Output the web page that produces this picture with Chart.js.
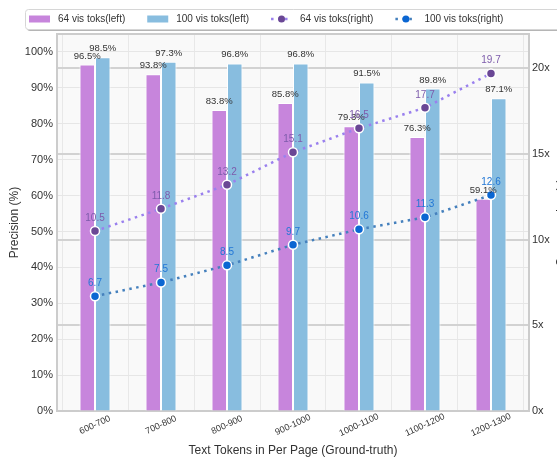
<!DOCTYPE html>
<html>
<head>
<meta charset="utf-8">
<script src="https://cdn.jsdelivr.net/npm/chart.js@4.4.1/dist/chart.umd.min.js"></script>
<style>
    html, body { margin: 0; padding: 0; background: #fff; overflow: hidden; }
    #chart { display: block; }
</style>
</head>
<body>
<canvas id="chart" width="557" height="459"></canvas>
<script>
// data
const categories = ['600-700', '700-800', '800-900', '900-1000', '1000-1100', '1100-1200', '1200-1300'];
const vis64Precision = [96.5, 93.8, 83.8, 85.8, 79.3, 76.3, 59.1];
const vis100Precision = [98.5, 97.3, 96.8, 96.8, 91.5, 89.8, 87.1];
const vis64Compression = [10.5, 11.8, 13.2, 15.1, 16.5, 17.7, 19.7];
const vis100Compression = [6.7, 7.5, 8.5, 9.7, 10.6, 11.3, 12.6];
const precisionTicks = [0, 10, 20, 30, 40, 50, 60, 70, 80, 90, 100];
const compressionTicks = [0, 5, 10, 15, 20];

Chart.defaults.font.family = '"Liberation Sans", Arial, sans-serif';
Chart.defaults.color = '#333';

const toXY = arr => arr.map((v, i) => ({ x: i, y: v }));

// =====================
// PLUGINS
// =====================

const plotFrame = {
    id: 'plotFrame',
    beforeDraw(chart) {
        const { ctx, chartArea: a } = chart;
        ctx.save();
        ctx.fillStyle = '#f9f9f9';
        ctx.fillRect(a.left, a.top, a.right - a.left, a.bottom - a.top);
        ctx.restore();
    },
    beforeDatasetsDraw(chart) {
        const { ctx, chartArea: a } = chart;
        ctx.save();
        ctx.strokeStyle = '#cccccc';
        ctx.lineWidth = 2;
        ctx.strokeRect(a.left, a.top, a.right - a.left, a.bottom - a.top);
        ctx.restore();
    }
};

const valueLabels = {
    id: 'valueLabels',
    afterDatasetsDraw(chart) {
        const ctx = chart.ctx;
        ctx.save();
        ctx.textAlign = 'center';
        ctx.textBaseline = 'alphabetic';
        chart.data.datasets.forEach((ds, di) => {
            const meta = chart.getDatasetMeta(di);
            meta.data.forEach((el, i) => {
                const v = ds.data[i].y;
                if (ds.type === 'line') {
                    ctx.font = '10px "Liberation Sans", Arial, sans-serif';
                    ctx.fillStyle = ds.labelColor;
                    ctx.fillText(v.toFixed(1), el.x, el.y - 10);
                } else {
                    ctx.font = '9.5px "Liberation Sans", Arial, sans-serif';
                    ctx.fillStyle = '#333';
                    ctx.fillText(v.toFixed(1) + '%', el.x, el.y - 6);
                }
            });
        });
        ctx.restore();
    }
};

const extraText = {
    id: 'extraText',
    afterDraw(chart) {
        const { ctx, chartArea: a } = chart;
        const xs = chart.scales.x;
        ctx.save();

        // rotated category labels, centred under each group
        ctx.font = '9px "Liberation Sans", Arial, sans-serif';
        ctx.fillStyle = '#333';
        ctx.textAlign = 'center';
        ctx.textBaseline = 'middle';
        categories.forEach((c, i) => {
            ctx.save();
            ctx.translate(xs.getPixelForValue(i), a.bottom + 14);
            ctx.rotate(-25 * Math.PI / 180);
            ctx.fillText(c, 0, 0);
            ctx.restore();
        });

        // right axis title (runs off the page edge)
        ctx.font = '12px "Liberation Sans", Arial, sans-serif';
        ctx.translate(562, (a.top + a.bottom) / 2);
        ctx.rotate(-Math.PI / 2);
        ctx.fillText('Compression (x)', 0, 0);
        ctx.restore();
    }
};

const boxLegend = {
    id: 'boxLegend',
    afterDraw(chart) {
        const ctx = chart.ctx;
        const top = 9, h = 20, cy = top + h / 2;
        ctx.save();
        // shadow + box
        ctx.fillStyle = '#b5b5b5';
        ctx.beginPath();
        ctx.roundRect(27, top + 2, 560, h, 3);
        ctx.fill();
        ctx.fillStyle = '#fff';
        ctx.strokeStyle = '#d6d6d6';
        ctx.lineWidth = 1;
        ctx.beginPath();
        ctx.roundRect(25.5, top + 0.5, 560, h, 3);
        ctx.fill();
        ctx.stroke();

        ctx.font = '10px "Liberation Sans", Arial, sans-serif';
        ctx.textBaseline = 'middle';
        ctx.textAlign = 'left';
        let x = 29;
        chart.data.datasets.forEach(ds => {
            if (ds.type === 'line') {
                ctx.strokeStyle = ds.borderColor;
                ctx.lineWidth = 2.5;
                ctx.setLineDash(ds.borderDash);
                ctx.beginPath();
                ctx.moveTo(x, cy);
                ctx.lineTo(x + 21, cy);
                ctx.stroke();
                ctx.setLineDash([]);
                ctx.fillStyle = ds.pointBackgroundColor;
                ctx.beginPath();
                ctx.arc(x + 10.5, cy, 3.5, 0, Math.PI * 2);
                ctx.fill();
            } else {
                ctx.fillStyle = ds.backgroundColor;
                ctx.fillRect(x, cy - 3.5, 21, 7);
            }
            ctx.fillStyle = '#333';
            ctx.fillText(ds.label, x + 29, cy);
            x += 29 + ctx.measureText(ds.label).width + 22;
        });
        ctx.restore();
    }
};

// =====================
// CHART
// =====================

const barStyle = {
    type: 'bar',
    yAxisID: 'y',
    order: 2,
    borderColor: '#ffffff',
    borderWidth: 1,
    categoryPercentage: 0.47,
    barPercentage: 1.0
};

const lineStyle = {
    type: 'line',
    yAxisID: 'y2',
    order: 1,
    fill: false,
    tension: 0,
    borderWidth: 2.5,
    borderDash: [2.5, 4.5],
    pointRadius: 4.5,
    pointBorderColor: '#ffffff',
    pointBorderWidth: 1.5
};

new Chart(document.getElementById('chart'), {
    type: 'bar',
    data: {
        datasets: [
            { ...barStyle, label: '64 vis toks(left)', data: toXY(vis64Precision), backgroundColor: '#c785dc' },
            { ...barStyle, label: '100 vis toks(left)', data: toXY(vis100Precision), backgroundColor: '#88bddf' },
            {
                ...lineStyle, label: '64 vis toks(right)', data: toXY(vis64Compression),
                borderColor: '#9a80ee', pointBackgroundColor: '#6a4795', labelColor: '#7d5bab'
            },
            {
                ...lineStyle, label: '100 vis toks(right)', data: toXY(vis100Compression),
                borderColor: '#4580bd', pointBackgroundColor: '#0b66d2', labelColor: '#2277d6'
            }
        ]
    },
    options: {
        responsive: false,
        animation: false,
        layout: { padding: { top: 34, left: 0, right: 0, bottom: 0 } },
        plugins: {
            legend: { display: false },
            tooltip: { enabled: false }
        },
        scales: {
            x: {
                type: 'linear',
                min: -0.576,
                max: 6.576,
                offset: false,
                grid: { color: '#e8e8e8', lineWidth: 1, drawTicks: false },
                border: { display: false },
                ticks: { display: false },
                afterBuildTicks: s => { s.ticks = categories.map((c, i) => ({ value: i })); },
                afterFit: s => { s.height = 48; },
                title: {
                    display: true,
                    text: 'Text Tokens in Per Page (Ground-truth)',
                    font: { size: 12 },
                    color: '#333',
                    padding: { top: 0, bottom: 1 }
                }
            },
            y: {
                position: 'left',
                min: 0,
                max: 105,
                grid: { color: '#e6e6e6', lineWidth: 1, drawTicks: false },
                border: { display: false },
                ticks: { font: { size: 11 }, color: '#333', padding: 4, callback: v => v + '%' },
                afterBuildTicks: s => { s.ticks = precisionTicks.map(v => ({ value: v })); },
                afterFit: s => { s.width = 57; },
                title: {
                    display: true,
                    text: 'Precision (%)',
                    font: { size: 12 },
                    color: '#333',
                    padding: { top: 7, bottom: 0 }
                }
            },
            y2: {
                position: 'right',
                min: 0,
                max: 22,
                grid: { color: '#d2d2d2', lineWidth: 2, drawTicks: false },
                border: { display: false },
                ticks: { font: { size: 11 }, color: '#333', padding: 3, callback: v => v + 'x' },
                afterBuildTicks: s => { s.ticks = compressionTicks.map(v => ({ value: v })); },
                afterFit: s => { s.width = 28; }
            }
        }
    },
    plugins: [plotFrame, valueLabels, extraText, boxLegend]
});
</script>
</body>
</html>
